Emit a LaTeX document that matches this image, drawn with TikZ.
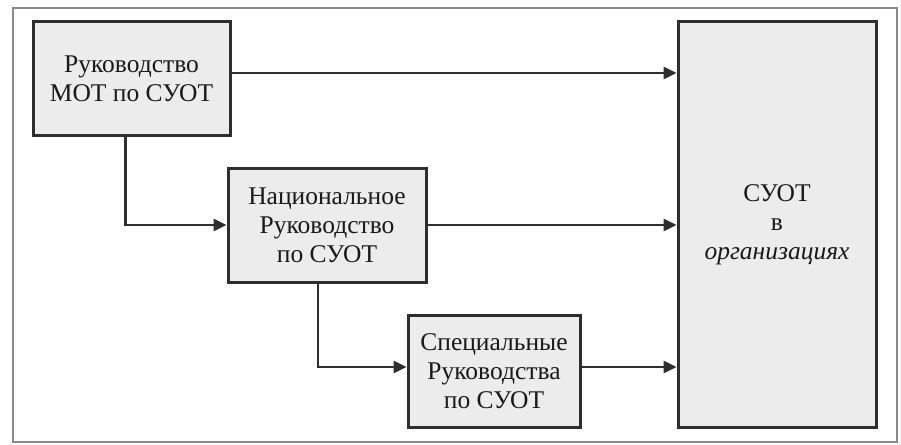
\documentclass[tikz,border=0pt]{standalone}
\usepackage{fontspec}
\setmainfont{Liberation Serif}
\usetikzlibrary{arrows.meta}
\definecolor{boxfill}{HTML}{ECECEC}
\definecolor{boxline}{HTML}{2E2E2E}
\definecolor{frameline}{HTML}{8A8A8A}
\begin{document}
\begin{tikzpicture}[x=1pt,y=-1pt,
  blk/.style={draw=boxline,line width=3pt,fill=boxfill,align=center,inner sep=0pt,
    font=\fontsize{25.5}{29}\selectfont,text=black!90},
  conn/.style={draw=boxline,line width=2.6pt,-{Triangle[length=13pt,width=12pt]}}]
\useasboundingbox (0,0) rectangle (901,444);
\draw[frameline,line width=2pt] (13,8) rectangle (897,442);
\node[blk,minimum width=197pt,minimum height=113pt] (b1) at (131.5,78.5) {Руководство\\МОТ по СУОТ};
\node[blk,minimum width=198pt,minimum height=114pt] (b2) at (327,225) {Национальное\\Руководство\\по СУОТ};
\node[blk,minimum width=172pt,minimum height=112pt] (b3) at (494,371) {Специальные\\Руководства\\по СУОТ};
\node[blk,minimum width=198pt,minimum height=405pt] (big) at (777,224.5) {СУОТ\\в\\\textit{организациях}};
\draw[conn] ([yshift=5.5pt]b1.east) -- ([yshift=5.5pt]b1.east -| big.west);
\draw[conn] (b2.east) -- (b2.east -| big.west);
\draw[conn] ([yshift=4pt]b3.east) -- ([yshift=4pt]b3.east -| big.west);
\draw[conn] ([xshift=-6pt]b1.south) |- (b2.west);
\draw[conn] ([xshift=-9pt]b2.south) |- ([yshift=4pt]b3.west);
\end{tikzpicture}
\end{document}
